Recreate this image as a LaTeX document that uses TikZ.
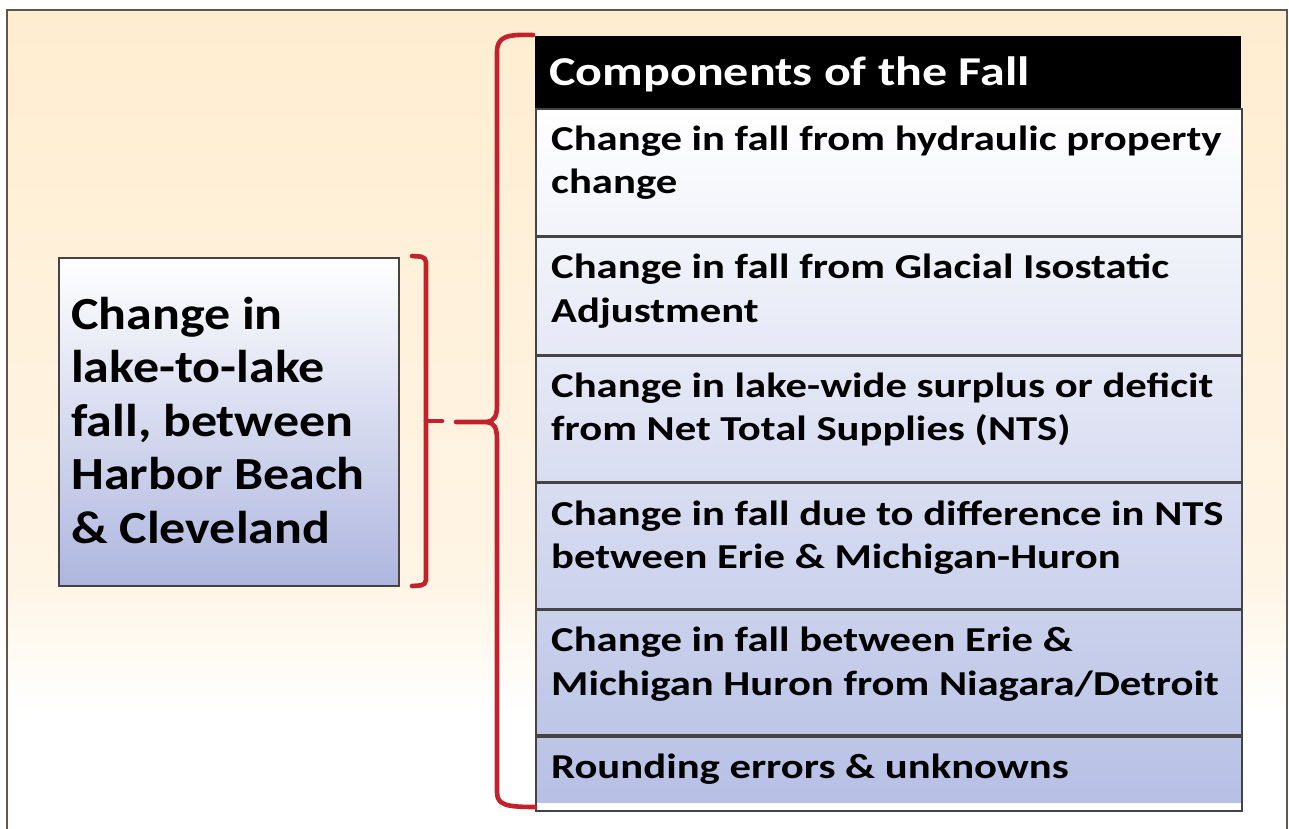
\documentclass[tikz,border=0pt]{standalone}
\usepackage{fontspec}
\setmainfont{Carlito}
\newfontfamily\tabfont[FakeStretch=1.22]{Carlito}
\newfontfamily\leftfont[FakeStretch=1.13]{Carlito}
\usetikzlibrary{calc}
\definecolor{cream}{HTML}{FFEDD0}
\definecolor{creamlt}{HTML}{FFF5E6}
\definecolor{lav}{HTML}{B7C0E5}
\definecolor{lavbox}{HTML}{AEB6DF}
\definecolor{bred}{HTML}{C2222C}
\definecolor{framec}{HTML}{5E5650}
\definecolor{gridc}{HTML}{444444}
\pgfdeclareverticalshading{bgshade}{100bp}{color(0bp)=(white); color(32bp)=(white); color(40bp)=(creamlt); color(75bp)=(cream); color(100bp)=(cream)}
\tikzset{
  bracestyle/.style={draw=bred, line width=4.6pt, line cap=round, line join=round},
  rowbox/.style={draw=gridc, line width=1.6pt, inner sep=0pt, minimum width=706pt, anchor=north west},
  rowtext/.style={anchor=north west, inner sep=0pt, align=left, font=\tabfont\fontsize{35}{43.5}\selectfont\bfseries},
  lefttext/.style={anchor=north west, inner sep=0pt, align=left, font=\leftfont\fontsize{46}{53.5}\selectfont\bfseries},
}
\begin{document}
\begin{tikzpicture}[x=1pt,y=-1pt]
\useasboundingbox (0,0) rectangle (1289,829);
% background
\shade[shading=bgshade] (7,10) rectangle (1287,829);
\draw[framec, line width=1.6pt] (7,840) -- (7,10) -- (1287,10) -- (1287,840);

% left box
\node[draw=gridc, line width=1.6pt, top color=white, bottom color=lavbox, minimum width=340pt, minimum height=328pt, anchor=north west, inner sep=0pt] (lbox) at (58,257) {};
\node[lefttext] (ltext) at ($(lbox.north west)+(13,36)$) {\rule{0pt}{36pt}Change in\\lake-to-lake\\fall, between\\Harbor Beach\\\& Cleveland};

% table body
\fill[top color=white, bottom color=lav] (535,108) rectangle (1241,802);
\node[fill=black, inner sep=0pt, minimum width=706pt, minimum height=72pt, anchor=north west] (hdr) at (535,36) {};
\node[anchor=base west, inner sep=0pt, text=white, font=\tabfont\fontsize{41}{46}\selectfont\bfseries] (htext) at ($(hdr.north west)+(14,50)$) {Components of the Fall};

\node[rowbox, minimum height=127pt] (r1) at (535,108) {};
\node[rowbox, minimum height=117pt] (r2) at (r1.south west) {};
\node[rowbox, minimum height=126pt] (r3) at (r2.south west) {};
\node[rowbox, minimum height=125pt] (r4) at (r3.south west) {};
\node[rowbox, minimum height=125pt] (r5) at (r4.south west) {};
\node[rowbox, minimum height=74pt] (r6) at (r5.south west) {};

\node[rowtext] (t1) at ($(r1.north west)+(16,15)$) {\rule{0pt}{27pt}Change in fall from hydraulic property\\change};
\node[rowtext] (t2) at ($(r2.north west)+(16,15)$) {\rule{0pt}{27pt}Change in fall from Glacial Isostatic\\Adjustment};
\node[rowtext] (t3) at ($(r3.north west)+(16,15)$) {\rule{0pt}{27pt}Change in lake-wide surplus or deficit\\from Net Total Supplies (NTS)};
\node[rowtext] (t4) at ($(r4.north west)+(16,15)$) {\rule{0pt}{27pt}Change in fall due to difference in NTS\\between Erie \& Michigan-Huron};
\node[rowtext] (t5) at ($(r5.north west)+(16,15)$) {\rule{0pt}{27pt}Change in fall between Erie \&\\Michigan Huron from Niagara/Detroit};
\node[rowtext] (t6) at ($(r6.north west)+(16,15)$) {\rule{0pt}{27pt}Rounding errors \& unknowns};

% small bracket
\coordinate (sbt) at (412,256);
\coordinate (sbb) at (412,586);
\coordinate (sbm) at (426,421);
\coordinate (sbtip) at (442,421);
\draw[bracestyle, rounded corners=5pt] (sbt) -- (426,257) -- (426,585) -- (sbb);
\draw[bracestyle] (sbm) -- (sbtip);

% big curly brace
\coordinate (bbt) at (533,35);
\coordinate (bbb) at (535,807);
\coordinate (bbtip) at (456,422);
\draw[bracestyle] (bbt) .. controls (506,34) and (497,37) .. (497,52) -- (497,405)
   .. controls (497,417) and (494,421) .. (487,422) -- (bbtip);
\draw[bracestyle] (487,422) .. controls (494,423) and (497,427) .. (497,440) -- (497,792)
   .. controls (497,805) and (506,807) .. (bbb);
\end{tikzpicture}
\end{document}
